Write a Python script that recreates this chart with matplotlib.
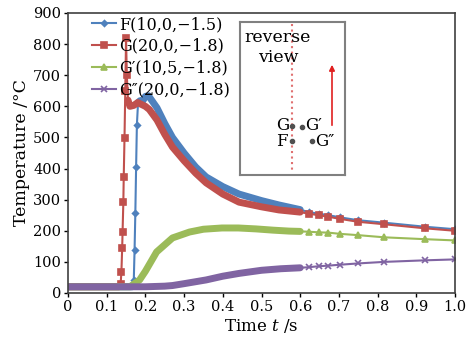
import numpy as np
import matplotlib
matplotlib.use('Agg')
import matplotlib.pyplot as plt

plt.rcParams['font.family'] = 'DejaVu Serif'
plt.rcParams['mathtext.fontset'] = 'dejavuserif'

# temperature histories (t in s, T in degC)
t_F = [0, 0.1, 0.166, 0.170, 0.172, 0.174, 0.176, 0.178, 0.181, 0.186, 0.192, 0.200, 0.208,
       0.23, 0.25, 0.27, 0.30, 0.33, 0.357, 0.40, 0.442, 0.50, 0.545, 0.60,
       0.622, 0.648, 0.673, 0.704, 0.749, 0.817, 0.922, 1.0]
T_F = [20, 20, 20, 42, 138, 257, 405, 540, 612, 618, 615, 632, 634,
       595, 545, 500, 450, 405, 373, 342, 318, 297, 283, 268,
       260, 255, 250, 243, 234, 226, 213, 205]

t_G = [0, 0.1, 0.132, 0.136, 0.138, 0.140, 0.141, 0.143, 0.144, 0.146, 0.148, 0.150, 0.152,
       0.155, 0.16, 0.17, 0.18, 0.19, 0.20, 0.21, 0.23, 0.25, 0.27, 0.30, 0.33, 0.357, 0.40,
       0.442, 0.50, 0.545, 0.60,
       0.622, 0.648, 0.673, 0.704, 0.749, 0.817, 0.922, 1.0]
T_G = [20, 20, 20, 30, 67, 145, 196, 292, 373, 498, 650, 820, 700,
       620, 600, 603, 612, 606, 600, 590, 556, 510, 469, 425, 385, 354, 318,
       292, 277, 267, 260,
       255, 250, 245, 238, 229, 221, 208, 200]

t_G1 = [0, 0.1, 0.16, 0.185, 0.20, 0.229, 0.27, 0.314, 0.35, 0.398, 0.44, 0.486, 0.53, 0.571, 0.60,
        0.622, 0.648, 0.673, 0.704, 0.749, 0.817, 0.922, 1.0]
T_G1 = [20, 20, 20, 42, 70, 132, 177, 196, 205, 209, 209, 206, 202, 199, 198,
        197, 195, 194, 190, 186, 179, 173, 169]

t_G2 = [0, 0.1, 0.2, 0.25, 0.27, 0.30, 0.357, 0.40, 0.442, 0.50, 0.55, 0.60,
        0.622, 0.648, 0.673, 0.704, 0.749, 0.817, 0.922, 1.0]
T_G2 = [20, 20, 20, 22, 24, 30, 42, 54, 63, 73, 78, 81,
        83, 86, 88, 91, 95, 100, 105, 108]

labels = ['F(10,0,\u22121.5)', 'G(20,0,\u22121.8)',
          'G\u2032(10,5,\u22121.8)', 'G\u2033(20,0,\u22121.8)']
colors = ['#4F81BD', '#C0504D', '#9BBB59', '#8064A2']
markers = ['D', 's', '^', 'x']
msizes = [3, 4.5, 5, 5]
# where the original output was dense (drawn as a thick band)
dense = [lambda t: (t <= 0.166) | ((t >= 0.181) & (t <= 0.6)),
         lambda t: (t <= 0.132) | ((t >= 0.155) & (t <= 0.6)),
         lambda t: t <= 0.6,
         lambda t: t <= 0.6]

fig = plt.figure(figsize=(4.67, 3.42), dpi=100)
ax = fig.add_axes([68/467, 1-293/342, 387/467, 280/342])

for t, T, lab, c, m, ms, d in zip([t_F, t_G, t_G1, t_G2], [T_F, T_G, T_G1, T_G2],
                                  labels, colors, markers, msizes, dense):
    t = np.array(t)
    T = np.array(T, dtype=float)
    band = d(t)
    ax.plot(t, T, color=c, lw=1.5, marker=m, ms=ms, mew=1.2,
            markevery=list(~band), label=lab)
    ax.plot(t, np.where(band, T, np.nan), color=c, lw=5, solid_capstyle='round')

ax.set_xlim(0, 1.0)
ax.set_ylim(0, 900)
ax.set_xticks(np.arange(0, 1.01, 0.1))
ax.set_xticklabels(['0'] + ['%.1f' % v for v in np.arange(0.1, 1.01, 0.1)])
ax.set_yticks(range(0, 901, 100))
ax.tick_params(labelsize=10.5, length=3, width=1, pad=2)
for s in ax.spines.values():
    s.set_color('#404040')
    s.set_linewidth(1.2)
ax.set_xlabel('Time $t$ /s', fontsize=12, labelpad=2)
ax.set_ylabel('Temperature /\u00b0C', fontsize=12.5, labelpad=2)

leg = ax.legend(loc='upper left', bbox_to_anchor=(0.045, 1.012), frameon=False,
                fontsize=11.5, handlelength=1.5, handletextpad=0.2,
                labelspacing=0.3, borderaxespad=0)

# inset sketch, drawn in pixel coords of the box
ins = fig.add_axes([240/467, 1-175/342, 105/467, 153/342])
ins.set_xlim(240, 345)
ins.set_ylim(175, 22)
ins.set_xticks([])
ins.set_yticks([])
for s in ins.spines.values():
    s.set_color('#808080')
    s.set_linewidth(1.5)
ins.text(244, 37, 'reverse', fontsize=12.5, va='center', ha='left')
ins.text(278, 57, 'view', fontsize=12.5, va='center', ha='center')
ins.plot([292, 292], [24, 170], color='#E07070', lw=1.5, ls=':')
ins.annotate('', xy=(332, 62), xytext=(332, 128),
             arrowprops=dict(arrowstyle='-|>', color='#E02020', lw=1.2, mutation_scale=8))
pt_x = [292, 302, 292, 312]
pt_y = [126, 127, 141, 141]
ins.plot(pt_x, pt_y, 'o', color='#505050', ms=3)
ins.text(289, 126, 'G', fontsize=12, ha='right', va='center')
ins.text(305, 126, 'G\u2032', fontsize=12, ha='left', va='center')
ins.text(288, 142, 'F', fontsize=12, ha='right', va='center')
ins.text(315, 142, 'G\u2033', fontsize=12, ha='left', va='center')

fig.savefig('out.png', dpi=100)
